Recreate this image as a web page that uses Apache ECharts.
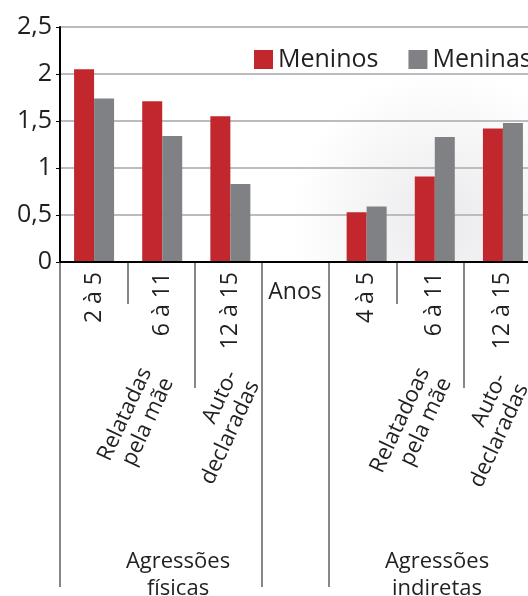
<!DOCTYPE html>
<html>
<head>
<meta charset="utf-8">
<script src="https://cdn.jsdelivr.net/npm/echarts@6/dist/echarts.min.js"></script>
<style>
  html, body { margin: 0; padding: 0; background: #fff; }
  #main { width: 528px; height: 596px; }
</style>
</head>
<body>
<div id="main"></div>
<script>
// dados do gráfico
var categories = ['2 à 5', '6 à 11', '12 à 15', 'Anos', '4 à 5', '6 à 11', '12 à 15'];
var meninos = [2.05, 1.71, 1.55, null, 0.53, 0.91, 1.42];
var meninas = [1.74, 1.34, 0.83, null, 0.59, 1.33, 1.48];
var yTicks = [0, 0.5, 1, 1.5, 2, 2.5];
var seriesNames = ['Meninos', 'Meninas'];

var fonte = '"Open Sans", "Noto Sans", sans-serif';
var corTexto = '#231f20';

var chart = echarts.init(document.getElementById('main'));

// eixo extra (grid 1) só para desenhar os separadores de tamanhos diferentes
function tickAxis(len, keep) {
  return {
    type: 'category',
    data: categories,
    position: 'bottom',
    gridIndex: 1,
    axisLine: { show: false },
    axisLabel: { show: false },
    splitLine: { show: false },
    axisTick: {
      show: true,
      length: len,
      interval: function (i) { return keep.indexOf(i) >= 0; },
      lineStyle: { color: '#87878b', width: 2 }
    }
  };
}

var rot = 65 * Math.PI / 180;
var estiloRot = { fontSize: 22, lineHeight: 24, fill: corTexto, fontFamily: fonte, align: 'right', verticalAlign: 'middle' };

var option = {
  animation: false,
  backgroundColor: '#fff',
  textStyle: { fontFamily: fonte },
  grid: [
    { left: 60, right: -9, top: 27, bottom: 334, outerBoundsMode: 'none', containLabel: false },
    { left: 60, right: -3, top: 27, bottom: 334, outerBoundsMode: 'none', containLabel: false }
  ],
  legend: {
    left: 254,
    top: 47,
    width: 340,
    padding: 0,
    icon: 'rect',
    itemWidth: 19,
    itemHeight: 19,
    itemGap: 30,
    data: seriesNames,
    textStyle: { fontSize: 25, color: corTexto, fontFamily: fonte }
  },
  xAxis: [
    {
      type: 'category',
      data: categories,
      gridIndex: 0,
      axisLine: { show: false },
      axisTick: { show: false },
      axisLabel: {
        rotate: 90,
        margin: 10,
        fontSize: 23,
        color: corTexto,
        fontFamily: fonte,
        interval: 0,
        formatter: function (v) { return v === 'Anos' ? '' : v; }
      }
    },
    {
      type: 'category',
      data: categories,
      gridIndex: 1,
      z: 5,
      axisLine: { show: true, lineStyle: { color: '#000', width: 2 } },
      axisTick: { show: false },
      axisLabel: { show: false }
    },
    tickAxis(325, [0, 3, 4]),
    tickAxis(42, [1, 5]),
    tickAxis(126, [2, 6])
  ],
  yAxis: [
    {
      type: 'value',
      gridIndex: 0,
      min: yTicks[0],
      max: yTicks[yTicks.length - 1],
      interval: 0.5,
      axisLine: { show: true, lineStyle: { color: '#000', width: 2 } },
      axisTick: { show: true, length: 4, lineStyle: { color: '#000', width: 1 } },
      axisLabel: {
        fontSize: 25,
        margin: 8,
        color: corTexto,
        fontFamily: fonte,
        formatter: function (v) { return String(v).replace('.', ','); }
      },
      splitLine: { lineStyle: { color: '#bcbcbf', width: 2 } }
    },
    {
      type: 'value',
      gridIndex: 1,
      min: yTicks[0],
      max: yTicks[yTicks.length - 1],
      show: false
    }
  ],
  graphic: [
    // fundo pontilhado aproximado
    {
      type: 'rect', z: -10, silent: true,
      shape: { x: 185, y: 60, width: 343, height: 202 },
      style: {
        fill: new echarts.graphic.RadialGradient(0.75, 0.8, 0.75, [
          { offset: 0, color: 'rgba(220,220,224,0.6)' },
          { offset: 1, color: 'rgba(220,220,224,0)' }
        ])
      }
    },
    {
      type: 'text', silent: true, x: 295, y: 292,
      style: { text: 'Anos', fontSize: 23, fill: corTexto, fontFamily: fonte, align: 'center', verticalAlign: 'middle' }
    },
    { type: 'text', silent: true, x: 157, y: 374, rotation: rot, style: Object.assign({ text: 'Relatadas\npela mãe' }, estiloRot) },
    { type: 'text', silent: true, x: 243, y: 377, rotation: rot, style: Object.assign({ text: 'Auto-\ndeclaradas' }, estiloRot) },
    { type: 'text', silent: true, x: 435, y: 374, rotation: rot, style: Object.assign({ text: 'Relatadoas\npela mãe' }, estiloRot) },
    { type: 'text', silent: true, x: 512, y: 380, rotation: rot, style: Object.assign({ text: 'Auto-\ndeclaradas' }, estiloRot) },
    {
      type: 'text', silent: true, x: 178, y: 575,
      style: { text: 'Agressões\nfísicas', fontSize: 22, lineHeight: 27, fill: corTexto, fontFamily: fonte, align: 'center', verticalAlign: 'middle' }
    },
    {
      type: 'text', silent: true, x: 437, y: 575,
      style: { text: 'Agressões\nindiretas', fontSize: 22, lineHeight: 27, fill: corTexto, fontFamily: fonte, align: 'center', verticalAlign: 'middle' }
    }
  ],
  series: [
    {
      name: seriesNames[0],
      type: 'bar',
      data: meninos,
      barWidth: 20,
      barGap: '0%',
      itemStyle: { color: '#c1272d' }
    },
    {
      name: seriesNames[1],
      type: 'bar',
      data: meninas,
      barWidth: 20,
      barGap: '0%',
      itemStyle: { color: '#808184' }
    }
  ]
};

chart.setOption(option);
</script>
</body>
</html>
